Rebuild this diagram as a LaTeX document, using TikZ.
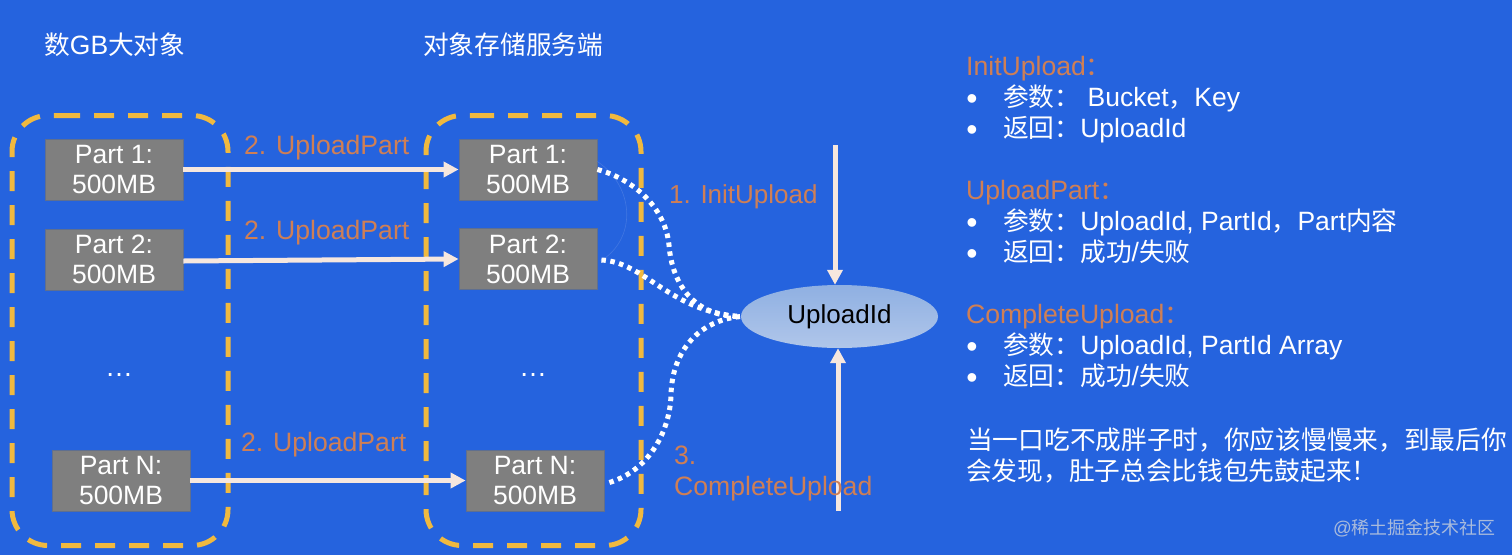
\documentclass[tikz,border=0pt]{standalone}
\usepackage{fontspec}
\setmainfont{Liberation Sans}
\newfontfamily\cjk[Scale=0.97]{Noto Sans CJK SC}
\usetikzlibrary{arrows.meta,shapes.geometric}
\definecolor{bgblue}{HTML}{2563DE}
\definecolor{dashgold}{HTML}{F0B93F}
\definecolor{partgrey}{HTML}{7F7F7F}
\definecolor{partedge}{HTML}{5F6F8F}
\definecolor{orangelabel}{HTML}{CF7F55}
\definecolor{arrowcream}{HTML}{F6E7DE}
\definecolor{arcfaint}{HTML}{4277E2}
\definecolor{markgrey}{HTML}{A9BBDC}
\definecolor{ovaltop}{HTML}{8FB0E2}
\definecolor{ovalbot}{HTML}{B0C6EA}
\newcommand{\zh}[1]{{\cjk #1}}
\newcommand{\sz}[1]{\fontsize{#1}{30}\selectfont}
\tikzset{
  groupline/.style={draw=dashgold,line width=5pt,rounded corners=36pt,dash pattern=on 20pt off 14pt},
  partbox/.style={draw=partedge,line width=0.8pt,fill=partgrey,text=white,align=center,minimum width=138pt,minimum height=61pt,inner sep=0pt,font=\sz{26.5}},
  flow/.style={draw=arrowcream,line width=5pt,-{Triangle[length=15pt,width=15pt]}},
  dotflow/.style={draw=white,line width=5pt,dash pattern=on 4.5pt off 4.5pt},
  whitetext/.style={text=white,anchor=base west,inner sep=0pt,font=\sz{26.5}},
  orangetext/.style={text=orangelabel,anchor=base west,inner sep=0pt,font=\sz{26.6}},
  bulletmark/.style={text=white,anchor=base,inner sep=0pt,font=\sz{32}},
}
\begin{document}
\begin{tikzpicture}[x=1pt,y=-1pt]
\useasboundingbox (0,0) rectangle (1512,555);
\fill[bgblue] (0,0) rectangle (1512,555);

% titles
\node[whitetext] (t1) at (44,54.5) {\zh{数}GB\zh{大对象}};
\node[whitetext] (t2) at (423,54.5) {\zh{对象存储服务端}};

% dashed groups
\draw[groupline] (60,115.5) -- (228,115.5) -- (228,545.5) -- (12,545.5) -- (12,115.5) -- (60,115.5);
\draw[groupline] (474,115.5) -- (641,115.5) -- (641,545.5) -- (426,545.5) -- (426,115.5) -- (474,115.5);

% part boxes
\node[partbox] (a1) at (114,169.5) {Part 1:\\500MB};
\node[partbox] (a2) at (114,259.5) {Part 2:\\500MB};
\node[partbox] (an) at (121,480.5) {Part N:\\500MB};
\node[partbox] (b1) at (528,169.5) {Part 1:\\500MB};
\node[partbox] (b2) at (528,259) {Part 2:\\500MB};
\node[partbox] (bn) at (535,480.5) {Part N:\\500MB};

\node[text=white,inner sep=0pt,font=\sz{28},anchor=base] (d1) at (119,376) {…};
\node[text=white,inner sep=0pt,font=\sz{28},anchor=base] (d2) at (533,376) {…};

% ellipse
\node[ellipse,minimum width=197pt,minimum height=63pt,inner sep=0pt,top color=ovaltop,bottom color=ovalbot,font=\sz{26},text=black] (uid) at (839.5,316.5) {UploadId};

% arrows between parts
\draw[flow] (a1.east) -- (b1.west);
\draw[flow] ([yshift=-1.5pt]a2.east) -- (b2.west);
\draw[flow] (an.east) -- (bn.west);

% vertical arrows
\coordinate (topfree) at (835,145);
\coordinate (botfree) at (838,511);
\draw[flow] (topfree) -- (topfree |- uid.north);
\draw[flow] (botfree) -- (botfree |- uid.south);

% faint arc
\draw[arcfaint,line width=0.6pt] ([yshift=8pt]b1.east) .. controls (636,188) and (636,240) .. ([xshift=3pt,yshift=-2pt]b2.east);

% dotted curves
\draw[dotflow] (b1.east) .. controls (630,178) and (665,205) .. (669,245) .. controls (672,285) and (695,317) .. (uid.west);
\draw[dotflow] ([xshift=4pt,yshift=-1pt]b2.east) .. controls (645,262) and (670,312) .. (uid.west);
\draw[dotflow] ([xshift=5pt,yshift=-2pt]bn.east) .. controls (650,470) and (670,430) .. (671,395) .. controls (672,350) and (700,320) .. (uid.west);

% connector labels
\node[orangetext] (l1) at (244,154) {2. UploadPart};
\node[orangetext] (l2) at (244,239) {2. UploadPart};
\node[orangetext] (l3) at (241,451) {2. UploadPart};
\node[orangetext,font=\sz{26}] (l4) at (669,203) {1. InitUpload};
\node[orangetext] (l5) at (674,464) {3.};
\node[orangetext] (l6) at (674,495) {CompleteUpload};

% right column
\node[orangetext] (h1) at (966,75) {InitUpload\zh{：}};
\node[bulletmark] (b11) at (972,109) {•};
\node[whitetext] (r11) at (1003,106) {\zh{参数：} Bucket\zh{，}Key};
\node[bulletmark] (b12) at (972,140) {•};
\node[whitetext] (r12) at (1003,137) {\zh{返回：}UploadId};

\node[orangetext] (h2) at (966,199) {UploadPart\zh{：}};
\node[bulletmark] (b21) at (972,233) {•};
\node[whitetext] (r21) at (1003,230) {\zh{参数：}UploadId, PartId\zh{，}Part\zh{内容}};
\node[bulletmark] (b22) at (972,264) {•};
\node[whitetext] (r22) at (1003,261) {\zh{返回：成功}/\zh{失败}};

\node[orangetext] (h3) at (966,323) {CompleteUpload\zh{：}};
\node[bulletmark] (b31) at (972,357) {•};
\node[whitetext] (r31) at (1003,354) {\zh{参数：}UploadId, PartId Array};
\node[bulletmark] (b32) at (972,388) {•};
\node[whitetext] (r32) at (1003,385) {\zh{返回：成功}/\zh{失败}};

\node[whitetext] (s1) at (967,449) {\zh{当一口吃不成胖子时，你应该慢慢来，到最后你}};
\node[whitetext] (s2) at (966,480) {\zh{会发现，肚子总会比钱包先鼓起来！}};

\node[text=markgrey,anchor=base west,inner sep=0pt,font=\sz{18.5}] (wm) at (1333,534) {@\zh{稀土掘金技术社区}};
\end{tikzpicture}
\end{document}
